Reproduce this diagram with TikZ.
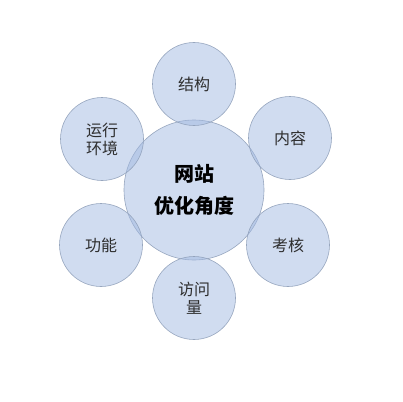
\documentclass[tikz,border=0pt]{standalone}
\usepackage{fontspec}
\usepackage{xcolor}
\usepackage{tikz}
\newfontfamily\cjk{Noto Sans CJK SC}
\definecolor{ringline}{HTML}{8E9EB8}
\definecolor{ballfill}{HTML}{A1B9E1}
\definecolor{labeltext}{HTML}{2E2E2E}
\tikzset{
	ball/.style = {circle, draw=ringline, line width=0.6pt, fill=ballfill,
		fill opacity=0.5, draw opacity=0.9, text opacity=1, inner sep=0pt,
		text=labeltext, font=\cjk\fontsize{16}{18}\selectfont, align=center},
	hub/.style = {ball, minimum size=140pt, text=black,
		font=\cjk\bfseries\fontsize{20}{32}\selectfont},
	petal/.style = {ball, minimum size=83pt}
}

\begin{document}
\begin{tikzpicture}[x=1pt, y=-1pt]
				\useasboundingbox (0, 0) rectangle (403, 401);

				\node[hub] (site) at (194, 190) {网站\\优化角度};

				\node[petal] (struct) at (194, 84) {结构};
				\node[petal] (content) at (290, 138) {内容};
				\node[petal] (assess) at (288, 245) {考核};
				\node[petal] (visits) at (194, 298) {访问\\量};
				\node[petal] (funcs) at (101, 245) {功能};
				\node[petal] (runenv) at (102, 139) {运行\\环境};
			\end{tikzpicture}
\end{document}
